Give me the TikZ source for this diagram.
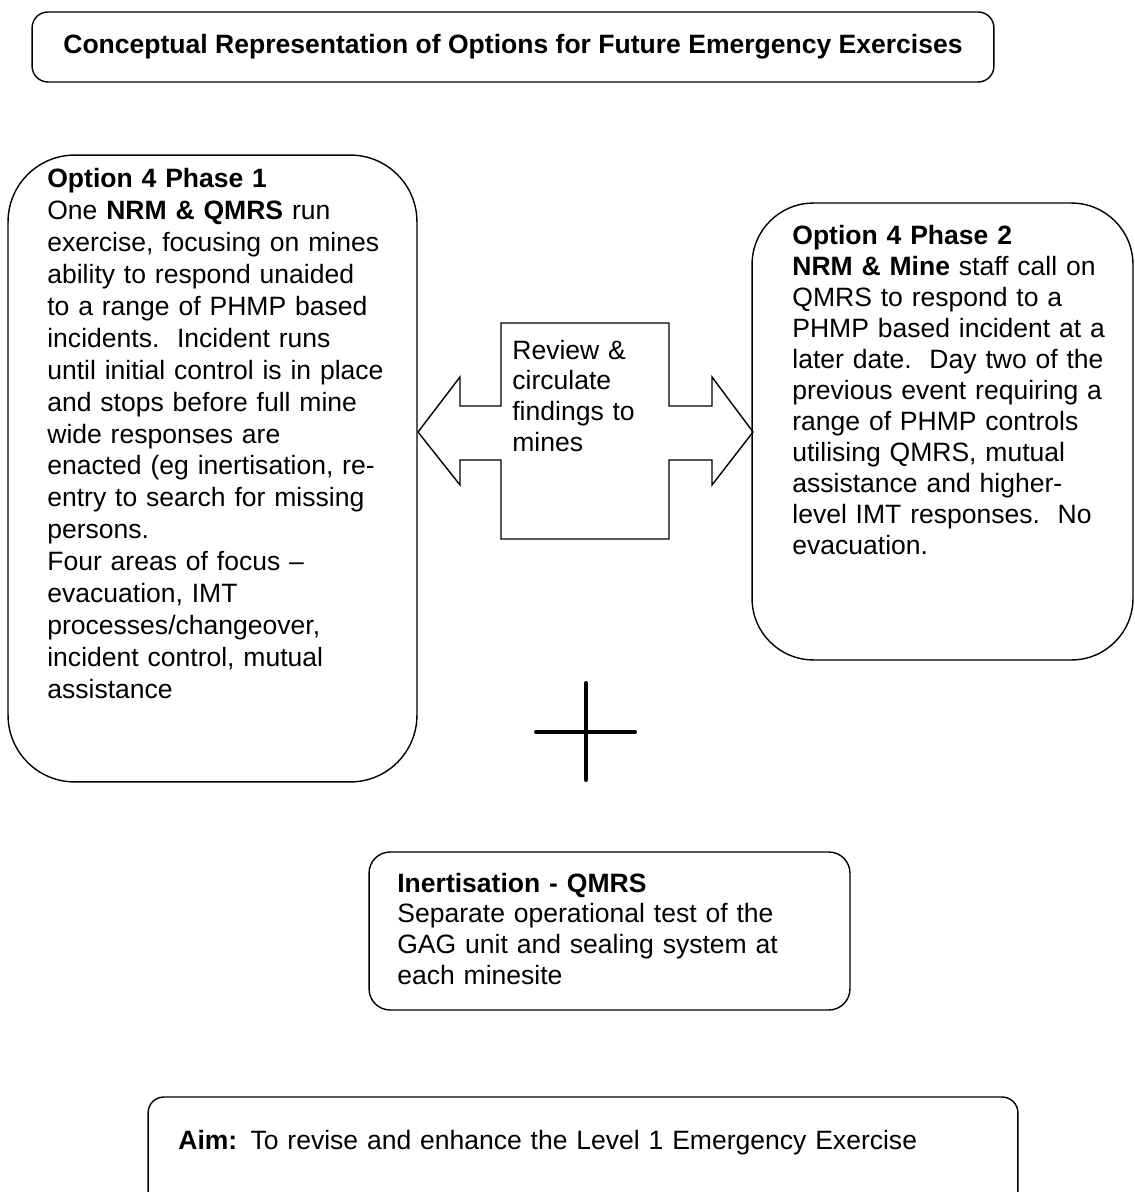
\documentclass[tikz,border=0pt]{standalone}
\usepackage{fontspec}
\setmainfont{Liberation Sans}
\begin{document}
\begin{tikzpicture}[x=0.02cm,y=-0.02cm]
\newcommand{\optsize}{\fontsize{15.1}{17.6}\selectfont}
\tikzstyle{panel}=[draw,line width=0.8pt,inner sep=0pt]
\tikzstyle{bigpanel}=[panel,rounded corners=38pt]
\tikzstyle{smallpanel}=[panel,rounded corners=9pt]
\tikzstyle{note}=[anchor=base west,inner sep=0pt,align=left,text width=230pt,font=\optsize]
\tikzstyle{arrowline}=[line width=0.8pt,line join=miter]
\tikzstyle{plus}=[line width=2.3pt,line cap=round]
\useasboundingbox (0,0) rectangle (1134,1192);
\node[smallpanel,minimum width=19.24cm,minimum height=1.4cm,font=\optsize\bfseries] (title) at (513,47) {Conceptual Representation of Options for Future Emergency Exercises};
\node[bigpanel,minimum width=8.18cm,minimum height=12.54cm] (phaseone) at (212.5,468.5) {};
\node[bigpanel,rounded corners=35pt,minimum width=7.62cm,minimum height=9.14cm] (phasetwo) at (942.5,431.5) {};
\node[smallpanel,rounded corners=12pt,minimum width=9.62cm,minimum height=3.16cm] (inert) at (609.5,931) {};
\node[smallpanel,minimum width=17.4cm,minimum height=2.66cm] (aim) at (583,1163.5) {};
\node[note,font=\fontsize{15.1}{18.15}\selectfont] (phaseonetext) at (47,188) {\textbf{Option 4 Phase 1}\\
One \textbf{NRM \& QMRS} run\\
exercise, focusing on mines\\
ability to respond unaided\\
to a range of PHMP based\\
incidents.\ \ Incident runs\\
until initial control is in place\\
and stops before full mine\\
wide responses are\\
enacted (eg inertisation, re-\\
entry to search for missing\\
persons.\\
Four areas of focus --\\
evacuation, IMT\\
processes/changeover,\\
incident control, mutual\\
assistance};
\node[note] (phasetwotext) at (792,245) {\textbf{Option 4 Phase 2}\\
\textbf{NRM \& Mine} staff call on\\
QMRS to respond to a\\
PHMP based incident at a\\
later date.\ \ Day two of the\\
previous event requiring a\\
range of PHMP controls\\
utilising QMRS, mutual\\
assistance and higher-\\
level IMT responses.\ \ No\\
evacuation.};
\coordinate (lt) at (418,432);
\coordinate (rt) at (753,432);
\draw[arrowline] (lt) -- (460,377) -- (460,406) -- (501,406) -- (501,323) -- (669,323) -- (669,406)
  -- (712,406) -- (712,377) -- (rt) -- (712,485) -- (712,460) -- (669,460) -- (669,539)
  -- (501,539) -- (501,460) -- (460,460) -- (460,485) -- cycle;
\node[note] (review) at (512,359) {Review \&\\
circulate\\
findings to\\
mines};
\coordinate (pw) at (536,732);
\coordinate (pe) at (635,732);
\coordinate (pn) at (586,683);
\coordinate (ps) at (586,780);
\draw[plus] (pw) -- (pe);
\draw[plus] (pn) -- (ps);
\node[note] (inerttext) at (397,892) {\textbf{Inertisation - QMRS}\\
Separate operational test of the\\
GAG unit and sealing system at\\
each minesite};
\node[note,text width=600pt] (aimtext) at (178,1149) {\textbf{Aim:} To revise and enhance the Level 1 Emergency Exercise};
\end{tikzpicture}
\end{document}
